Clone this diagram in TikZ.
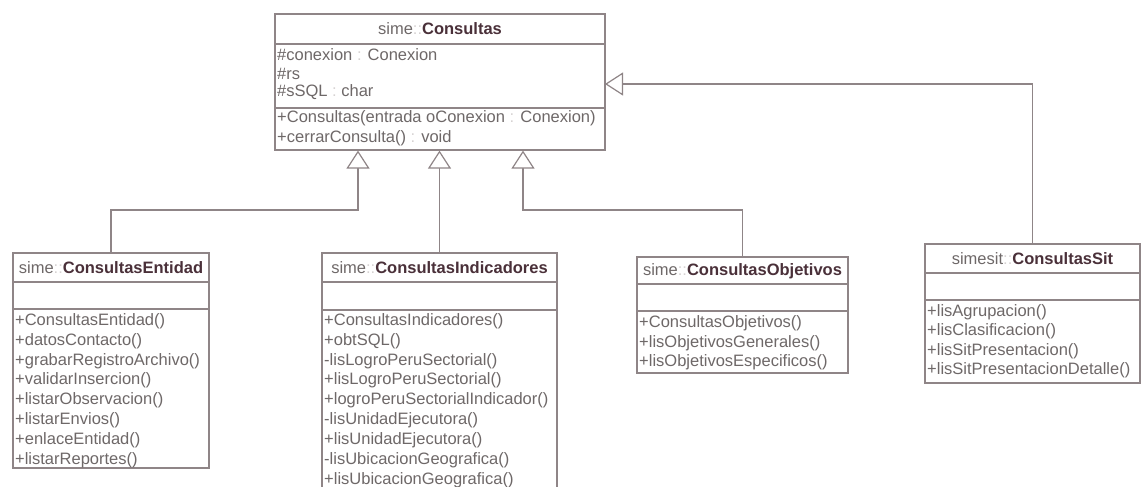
\documentclass[tikz,border=0pt]{standalone}
\usepackage{fontspec}
\setmainfont{Liberation Sans}
\usetikzlibrary{arrows.meta, positioning, calc}
\definecolor{umlline}{HTML}{8F8587}
\definecolor{umltext}{HTML}{6E6868}
\definecolor{umlname}{HTML}{4A3039}
\definecolor{umlfaint}{HTML}{D6D2D2}
\newcommand{\nsep}{\textcolor{umlfaint}{::}}
\newcommand{\tsep}{\textcolor{umlfaint}{:}}
\tikzset{
  classbox/.style={draw=umlline, line width=1.2pt, fill=white, inner sep=0pt},
  compart/.style={draw=umlline, line width=1.2pt},
  classname/.style={inner sep=0pt, text=umltext, font=\fontsize{16.5}{19}\selectfont},
  member/.style={anchor=west, inner sep=0pt, text=umltext, font=\fontsize{16.5}{19}\selectfont},
  inherit/.style={draw=umlline, line width=1.2pt,
    -{Triangle[open, fill=white, length=18pt, width=23pt]}}
}
\begin{document}
\begin{tikzpicture}[x=1pt, y=-1pt]
  \useasboundingbox (0,0) rectangle (1144,487);
  \clip (0,0) rectangle (1144,487);

  % Base class
  \node[classbox, minimum width=330pt, minimum height=136pt] (consultas) at (440,82) {};
  \draw[compart] (consultas.west |- 0,44) -- (consultas.east |- 0,44);
  \draw[compart] (consultas.west |- 0,108) -- (consultas.east |- 0,108);
  \node[classname] (consultasT) at (440,29) {sime\nsep\textbf{\color{umlname}Consultas}};
  \node[member] (c1) at (277,55) {\#conexion \tsep{} Conexion};
  \node[member] (c2) at (277,74) {\#rs};
  \node[member] (c3) at (277,92) {\#sSQL \tsep{} char};
  \node[member] (c4) at (277,118) {+Consultas(entrada oConexion \tsep{} Conexion)};
  \node[member] (c5) at (277,138) {+cerrarConsulta() \tsep{} void};

  % ConsultasEntidad
  \node[classbox, minimum width=196pt, minimum height=215pt] (entidad) at (111,360.5) {};
  \draw[compart] (entidad.west |- 0,282) -- (entidad.east |- 0,282);
  \draw[compart] (entidad.west |- 0,309) -- (entidad.east |- 0,309);
  \node[classname] (entidadT) at (111,268) {sime\nsep\textbf{\color{umlname}ConsultasEntidad}};
  \node[member] (e1) at (15,321) {+ConsultasEntidad()};
  \node[member] (e2) at (15,340.9) {+datosContacto()};
  \node[member] (e3) at (15,360.8) {+grabarRegistroArchivo()};
  \node[member] (e4) at (15,380.7) {+validarInsercion()};
  \node[member] (e5) at (15,400.6) {+listarObservacion()};
  \node[member] (e6) at (15,420.5) {+listarEnvios()};
  \node[member] (e7) at (15,440.4) {+enlaceEntidad()};
  \node[member] (e8) at (15,460.3) {+listarReportes()};

  % ConsultasIndicadores
  \node[classbox, minimum width=235pt, minimum height=242pt] (indicadores) at (439.5,374) {};
  \draw[compart] (indicadores.west |- 0,282) -- (indicadores.east |- 0,282);
  \draw[compart] (indicadores.west |- 0,310) -- (indicadores.east |- 0,310);
  \node[classname] (indicadoresT) at (439.5,268) {sime\nsep\textbf{\color{umlname}ConsultasIndicadores}};
  \node[member] (i1) at (324,321) {+ConsultasIndicadores()};
  \node[member] (i2) at (324,340.9) {+obtSQL()};
  \node[member] (i3) at (324,360.8) {-lisLogroPeruSectorial()};
  \node[member] (i4) at (324,380.7) {+lisLogroPeruSectorial()};
  \node[member] (i5) at (324,400.6) {+logroPeruSectorialIndicador()};
  \node[member] (i6) at (324,420.5) {-lisUnidadEjecutora()};
  \node[member] (i7) at (324,440.4) {+lisUnidadEjecutora()};
  \node[member] (i8) at (324,460.3) {-lisUbicacionGeografica()};
  \node[member] (i9) at (324,480.2) {+lisUbicacionGeografica()};

  % ConsultasObjetivos
  \node[classbox, minimum width=211pt, minimum height=116pt] (objetivos) at (742.5,315) {};
  \draw[compart] (objetivos.west |- 0,284) -- (objetivos.east |- 0,284);
  \draw[compart] (objetivos.west |- 0,311) -- (objetivos.east |- 0,311);
  \node[classname] (objetivosT) at (742.5,271) {sime\nsep\textbf{\color{umlname}ConsultasObjetivos}};
  \node[member] (o1) at (639,323) {+ConsultasObjetivos()};
  \node[member] (o2) at (639,343) {+lisObjetivosGenerales()};
  \node[member] (o3) at (639,362) {+lisObjetivosEspecificos()};

  % ConsultasSit
  \node[classbox, minimum width=215pt, minimum height=139pt] (sit) at (1032.5,313.5) {};
  \draw[compart] (sit.west |- 0,273) -- (sit.east |- 0,273);
  \draw[compart] (sit.west |- 0,300) -- (sit.east |- 0,300);
  \node[classname] (sitT) at (1032.5,259) {simesit\nsep\textbf{\color{umlname}ConsultasSit}};
  \node[member] (s1) at (927,312) {+lisAgrupacion()};
  \node[member] (s2) at (927,331.5) {+lisClasificacion()};
  \node[member] (s3) at (927,351) {+lisSitPresentacion()};
  \node[member] (s4) at (927,370.5) {+lisSitPresentacionDetalle()};

  % Generalizations
  \coordinate (bendE) at (358,210);
  \coordinate (bendO) at (523,210);
  \coordinate (tipS) at (605,84);
  \draw[inherit] (entidad.north) |- (bendE) -- (bendE |- consultas.south);
  \draw[inherit] (indicadores.north) -- (indicadores.north |- consultas.south);
  \draw[inherit] (objetivos.north) |- (bendO) -- (bendO |- consultas.south);
  \draw[inherit] (sit.north) |- (tipS);
\end{tikzpicture}
\end{document}
